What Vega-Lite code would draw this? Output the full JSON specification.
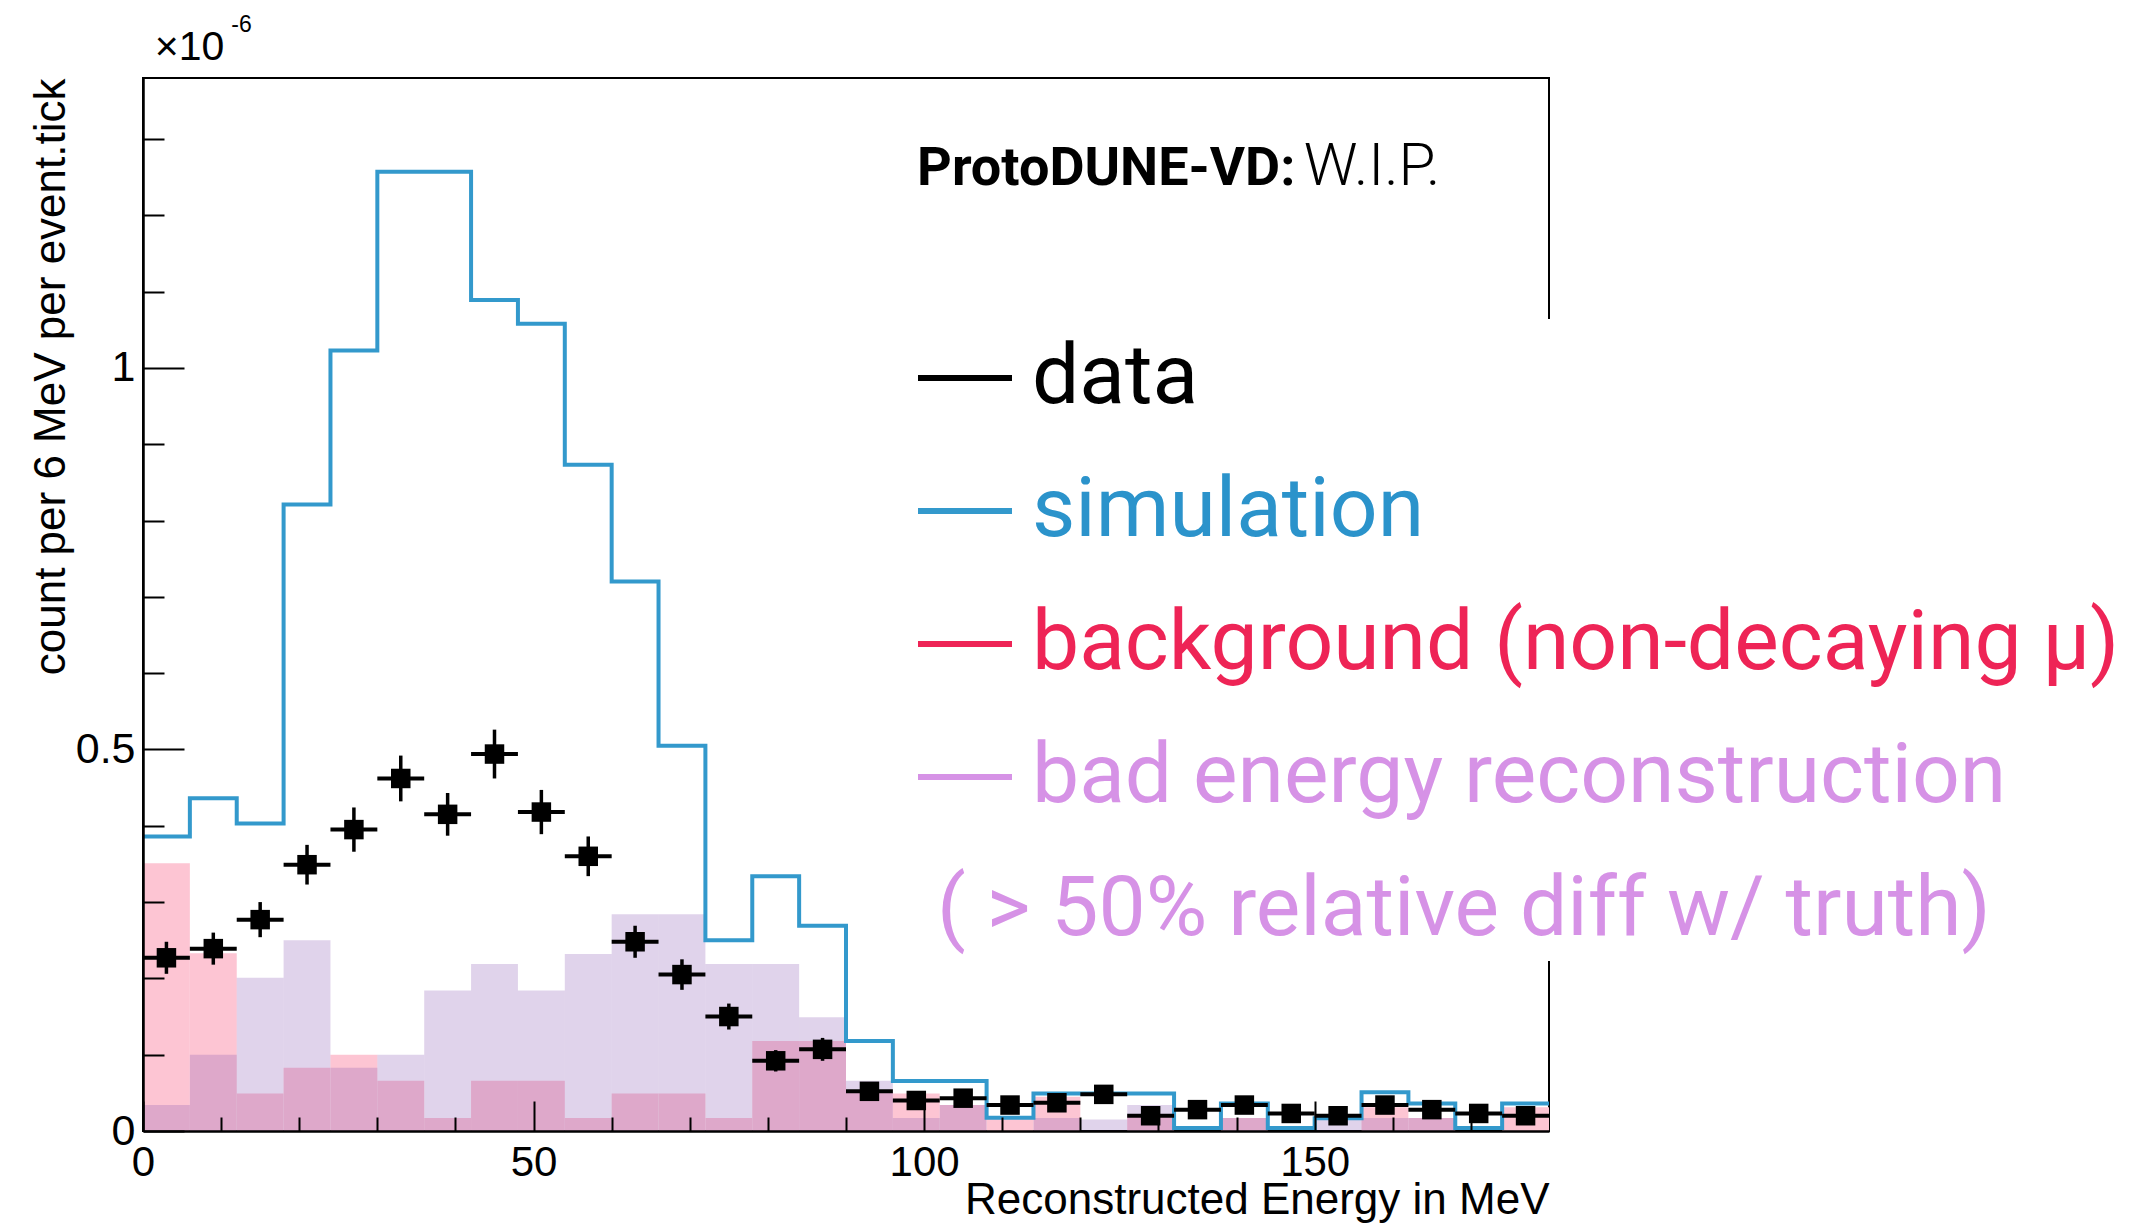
{
  "$schema": "https://vega.github.io/schema/vega-lite/v6.json",
  "width": 1406,
  "height": 1053,
  "autosize": {"type": "none"},
  "padding": {"left": 143, "top": 78, "right": 592, "bottom": 98},
  "background": "white",
  "config": {"view": {"stroke": "black", "strokeWidth": 2}, "axis": {"grid": false, "zindex": 1}},
  "resolve": {"axis": {"x": "independent", "y": "independent"}},
  "datasets": {
    "bins": [
      {"lo": 0, "hi": 6, "mid": 3, "data": 0.227, "elo": 0.206, "ehi": 0.248, "bkg": 0.351, "bad": 0.034},
      {"lo": 6, "hi": 12, "mid": 9, "data": 0.239, "elo": 0.218, "ehi": 0.260, "bkg": 0.233, "bad": 0.100},
      {"lo": 12, "hi": 18, "mid": 15, "data": 0.277, "elo": 0.254, "ehi": 0.300, "bkg": 0.049, "bad": 0.201},
      {"lo": 18, "hi": 24, "mid": 21, "data": 0.349, "elo": 0.323, "ehi": 0.375, "bkg": 0.083, "bad": 0.250},
      {"lo": 24, "hi": 30, "mid": 27, "data": 0.395, "elo": 0.366, "ehi": 0.424, "bkg": 0.100, "bad": 0.083},
      {"lo": 30, "hi": 36, "mid": 33, "data": 0.462, "elo": 0.432, "ehi": 0.492, "bkg": 0.066, "bad": 0.100},
      {"lo": 36, "hi": 42, "mid": 39, "data": 0.415, "elo": 0.387, "ehi": 0.443, "bkg": 0.017, "bad": 0.184},
      {"lo": 42, "hi": 48, "mid": 45, "data": 0.494, "elo": 0.462, "ehi": 0.526, "bkg": 0.066, "bad": 0.219},
      {"lo": 48, "hi": 54, "mid": 51, "data": 0.418, "elo": 0.389, "ehi": 0.447, "bkg": 0.066, "bad": 0.184},
      {"lo": 54, "hi": 60, "mid": 57, "data": 0.360, "elo": 0.334, "ehi": 0.386, "bkg": 0.017, "bad": 0.232},
      {"lo": 60, "hi": 66, "mid": 63, "data": 0.248, "elo": 0.227, "ehi": 0.269, "bkg": 0.049, "bad": 0.284},
      {"lo": 66, "hi": 72, "mid": 69, "data": 0.205, "elo": 0.185, "ehi": 0.225, "bkg": 0.049, "bad": 0.284},
      {"lo": 72, "hi": 78, "mid": 75, "data": 0.150, "elo": 0.133, "ehi": 0.167, "bkg": 0.017, "bad": 0.219},
      {"lo": 78, "hi": 84, "mid": 81, "data": 0.092, "elo": 0.078, "ehi": 0.106, "bkg": 0.118, "bad": 0.219},
      {"lo": 84, "hi": 90, "mid": 87, "data": 0.107, "elo": 0.092, "ehi": 0.122, "bkg": 0.118, "bad": 0.149},
      {"lo": 90, "hi": 96, "mid": 93, "data": 0.052, "elo": 0.042, "ehi": 0.062, "bkg": 0.053, "bad": 0.066},
      {"lo": 96, "hi": 102, "mid": 99, "data": 0.040, "elo": 0.031, "ehi": 0.049, "bkg": 0.049, "bad": 0.017},
      {"lo": 102, "hi": 108, "mid": 105, "data": 0.043, "elo": 0.034, "ehi": 0.052, "bkg": 0.034, "bad": 0.034},
      {"lo": 108, "hi": 114, "mid": 111, "data": 0.034, "elo": 0.026, "ehi": 0.042, "bkg": 0.017, "bad": 0},
      {"lo": 114, "hi": 120, "mid": 117, "data": 0.037, "elo": 0.029, "ehi": 0.045, "bkg": 0.045, "bad": 0.017},
      {"lo": 120, "hi": 126, "mid": 123, "data": 0.048, "elo": 0.039, "ehi": 0.057, "bkg": 0, "bad": 0.015},
      {"lo": 126, "hi": 132, "mid": 129, "data": 0.020, "elo": 0.014, "ehi": 0.026, "bkg": 0.021, "bad": 0.034},
      {"lo": 132, "hi": 138, "mid": 135, "data": 0.028, "elo": 0.021, "ehi": 0.035, "bkg": 0, "bad": 0},
      {"lo": 138, "hi": 144, "mid": 141, "data": 0.034, "elo": 0.026, "ehi": 0.042, "bkg": 0.017, "bad": 0.017},
      {"lo": 144, "hi": 150, "mid": 147, "data": 0.023, "elo": 0.016, "ehi": 0.030, "bkg": 0, "bad": 0},
      {"lo": 150, "hi": 156, "mid": 153, "data": 0.020, "elo": 0.014, "ehi": 0.026, "bkg": 0, "bad": 0.016},
      {"lo": 156, "hi": 162, "mid": 159, "data": 0.034, "elo": 0.026, "ehi": 0.042, "bkg": 0.031, "bad": 0.017},
      {"lo": 162, "hi": 168, "mid": 165, "data": 0.028, "elo": 0.021, "ehi": 0.035, "bkg": 0.017, "bad": 0.017},
      {"lo": 168, "hi": 174, "mid": 171, "data": 0.023, "elo": 0.016, "ehi": 0.030, "bkg": 0, "bad": 0},
      {"lo": 174, "hi": 180, "mid": 177, "data": 0.020, "elo": 0.014, "ehi": 0.026, "bkg": 0.031, "bad": 0}
    ],
    "sim": [
      {"e": 0, "sim": 0.386, "series": "simulation"},
      {"e": 6, "sim": 0.436, "series": "simulation"},
      {"e": 12, "sim": 0.403, "series": "simulation"},
      {"e": 18, "sim": 0.821, "series": "simulation"},
      {"e": 24, "sim": 1.023, "series": "simulation"},
      {"e": 30, "sim": 1.257, "series": "simulation"},
      {"e": 36, "sim": 1.257, "series": "simulation"},
      {"e": 42, "sim": 1.089, "series": "simulation"},
      {"e": 48, "sim": 1.058, "series": "simulation"},
      {"e": 54, "sim": 0.873, "series": "simulation"},
      {"e": 60, "sim": 0.720, "series": "simulation"},
      {"e": 66, "sim": 0.505, "series": "simulation"},
      {"e": 72, "sim": 0.250, "series": "simulation"},
      {"e": 78, "sim": 0.334, "series": "simulation"},
      {"e": 84, "sim": 0.269, "series": "simulation"},
      {"e": 90, "sim": 0.118, "series": "simulation"},
      {"e": 96, "sim": 0.0655, "series": "simulation"},
      {"e": 102, "sim": 0.0655, "series": "simulation"},
      {"e": 108, "sim": 0.0175, "series": "simulation"},
      {"e": 114, "sim": 0.049, "series": "simulation"},
      {"e": 120, "sim": 0.049, "series": "simulation"},
      {"e": 126, "sim": 0.049, "series": "simulation"},
      {"e": 132, "sim": 0.004, "series": "simulation"},
      {"e": 138, "sim": 0.036, "series": "simulation"},
      {"e": 144, "sim": 0.004, "series": "simulation"},
      {"e": 150, "sim": 0.0166, "series": "simulation"},
      {"e": 156, "sim": 0.0507, "series": "simulation"},
      {"e": 162, "sim": 0.036, "series": "simulation"},
      {"e": 168, "sim": 0.004, "series": "simulation"},
      {"e": 174, "sim": 0.036, "series": "simulation"},
      {"e": 180, "sim": 0.036, "series": "simulation"}
    ]
  },
  "layer": [
    {
      "data": {"name": "bins"},
      "mark": {"type": "bar", "color": "#FDC5D3", "opacity": 1},
      "encoding": {
        "x": {"field": "lo", "type": "quantitative",
          "scale": {"domain": [0, 180], "nice": false, "zero": false},
          "axis": {
            "orient": "bottom",
            "values": [0, 50, 100, 150],
            "tickSize": -30,
            "tickWidth": 2, "tickColor": "black", "domainColor": "black", "domainWidth": 2.5,
            "labelFont": "Liberation Sans", "labelFontSize": 42, "labelColor": "black", "labelPadding": 41,
            "labelFlush": false, "labelOverlap": false, "labelBound": false,
            "title": "Reconstructed Energy in MeV", "titleFont": "Liberation Sans", "titleFontSize": 44,
            "titleFontWeight": "normal", "titleColor": "black", "titleAlign": "right", "titleBaseline": "alphabetic",
            "titleX": 1406, "titleY": 82, "zindex": 2, "grid": false
          }
        },
        "x2": {"field": "hi"},
        "y": {"field": "bkg", "type": "quantitative",
          "scale": {"domain": [0, 1.38], "nice": false},
          "axis": {
            "orient": "left",
            "values": [0, 0.5, 1],
            "labelExpr": "datum.value === 0 ? '0' : datum.value === 0.5 ? '0.5' : '1'",
            "tickSize": -41,
            "tickWidth": 2, "tickColor": "black", "domainColor": "black", "domainWidth": 2.5,
            "labelFont": "Liberation Sans", "labelFontSize": 43, "labelColor": "black", "labelPadding": 49,
            "labelFlush": false, "labelOverlap": false, "labelBound": false,
            "title": "count per 6 MeV per event.tick", "titleFont": "Liberation Sans", "titleFontSize": 44,
            "titleFontWeight": "normal", "titleColor": "black", "titleAngle": 270, "titleAlign": "right",
            "titleBaseline": "alphabetic", "titleX": -79, "titleY": 0, "zindex": 2, "grid": false
          }
        },
        "y2": {"datum": 0}
      }
    },
    {
      "data": {"name": "bins"},
      "mark": {"type": "bar", "color": "rgb(136,86,178)", "opacity": 0.26},
      "encoding": {
        "x": {"field": "lo", "type": "quantitative",
          "scale": {"domain": [0, 180], "nice": false, "zero": false},
          "axis": {
            "orient": "bottom",
            "values": [10, 20, 30, 40, 60, 70, 80, 90, 110, 120, 130, 140, 160, 170],
            "tickSize": -14, "tickWidth": 2, "tickColor": "black",
            "labels": false, "domain": false, "title": null, "zindex": 2, "grid": false
          }
        },
        "x2": {"field": "hi"},
        "y": {"field": "bad", "type": "quantitative",
          "scale": {"domain": [0, 1.38], "nice": false},
          "axis": {
            "orient": "left",
            "values": [0.1, 0.2, 0.3, 0.4, 0.6, 0.7, 0.8, 0.9, 1.1, 1.2, 1.3],
            "tickSize": -21, "tickWidth": 2, "tickColor": "black",
            "labels": false, "domain": false, "title": null, "zindex": 2, "grid": false
          }
        },
        "y2": {"datum": 0}
      }
    },
    {
      "data": {"name": "sim"},
      "mark": {"type": "line", "interpolate": "step-after", "strokeWidth": 4, "strokeJoin": "miter"},
      "encoding": {
        "x": {"field": "e", "type": "quantitative", "axis": null},
        "y": {"field": "sim", "type": "quantitative", "axis": null},
        "color": {"field": "series", "type": "nominal",
          "scale": {"domain": ["data", "simulation", "background (non-decaying μ)", "bad energy reconstruction", "( > 50% relative diff w/ truth)"],
                    "range": ["#000000", "#3399CC", "#EE2456", "#D692E6", "rgba(0,0,0,0)"]},
          "legend": {
            "orient": "none", "legendX": 763, "legendY": 241, "direction": "vertical",
            "title": null, "padding": 9, "fillColor": "white",
            "symbolType": "stroke", "symbolSize": 8836, "symbolStrokeWidth": 6,
            "labelFont": "Roboto", "labelFontSize": 84, "labelLimit": 0, "labelOffset": 17,
            "rowPadding": 41,
            "encoding": {
              "labels": {
                "fill": {"condition": [
                  {"test": "datum.value === 'simulation'", "value": "#2B93CB"},
                  {"test": "datum.value === 'background (non-decaying μ)'", "value": "#EE2456"},
                  {"test": "datum.value === 'bad energy reconstruction' || datum.value === '( > 50% relative diff w/ truth)'", "value": "#D692E6"}
                ], "value": "#000000"},
                "dx": {"condition": {"test": "datum.value === '( > 50% relative diff w/ truth)'", "value": -95}, "value": 0}
              }
            }
          }
        }
      }
    },
    {
      "data": {"name": "bins"},
      "mark": {"type": "rule", "color": "black", "strokeWidth": 4},
      "encoding": {
        "x": {"field": "lo", "type": "quantitative", "axis": null},
        "x2": {"field": "hi"},
        "y": {"field": "data", "type": "quantitative", "axis": null}
      }
    },
    {
      "data": {"name": "bins"},
      "mark": {"type": "rule", "color": "black", "strokeWidth": 3.5},
      "encoding": {
        "x": {"field": "mid", "type": "quantitative", "axis": null},
        "y": {"field": "elo", "type": "quantitative", "axis": null},
        "y2": {"field": "ehi"}
      }
    },
    {
      "data": {"name": "bins"},
      "mark": {"type": "point", "shape": "square", "filled": true, "size": 380, "color": "black", "opacity": 1, "strokeWidth": 0},
      "encoding": {
        "x": {"field": "mid", "type": "quantitative", "axis": null},
        "y": {"field": "data", "type": "quantitative", "axis": null}
      }
    },
    {
      "data": {"values": [{"t": "ProtoDUNE-VD:"}]},
      "mark": {"type": "text", "font": "Roboto", "fontSize": 54, "fontWeight": "bold", "align": "left", "baseline": "alphabetic", "color": "black"},
      "encoding": {
        "x": {"datum": 99.1, "type": "quantitative", "axis": null, "scale": {"domain": [0, 180], "nice": false, "zero": false}},
        "y": {"datum": 1.24, "type": "quantitative", "axis": null, "scale": {"domain": [0, 1.38], "nice": false}},
        "text": {"field": "t"}
      }
    },
    {
      "data": {"values": [{"t": "W.I.P."}]},
      "mark": {"type": "text", "font": "Roboto", "fontSize": 60, "fontWeight": 300, "align": "left", "baseline": "alphabetic", "color": "black"},
      "encoding": {
        "x": {"datum": 148.6, "type": "quantitative", "axis": null, "scale": {"domain": [0, 180], "nice": false, "zero": false}},
        "y": {"datum": 1.24, "type": "quantitative", "axis": null, "scale": {"domain": [0, 1.38], "nice": false}},
        "text": {"field": "t"}
      }
    },
    {
      "data": {"values": [{"t": "×10"}]},
      "mark": {"type": "text", "font": "Liberation Sans", "fontSize": 41, "align": "left", "baseline": "alphabetic", "color": "black"},
      "encoding": {
        "x": {"datum": 1.5, "type": "quantitative", "axis": null, "scale": {"domain": [0, 180], "nice": false, "zero": false}},
        "y": {"datum": 1.404, "type": "quantitative", "axis": null, "scale": {"domain": [0, 1.38], "nice": false}},
        "text": {"field": "t"}
      }
    },
    {
      "data": {"values": [{"t": "-6"}]},
      "mark": {"type": "text", "font": "Liberation Sans", "fontSize": 23, "align": "left", "baseline": "alphabetic", "color": "black"},
      "encoding": {
        "x": {"datum": 11.3, "type": "quantitative", "axis": null, "scale": {"domain": [0, 180], "nice": false, "zero": false}},
        "y": {"datum": 1.44, "type": "quantitative", "axis": null, "scale": {"domain": [0, 1.38], "nice": false}},
        "text": {"field": "t"}
      }
    }
  ]
}
